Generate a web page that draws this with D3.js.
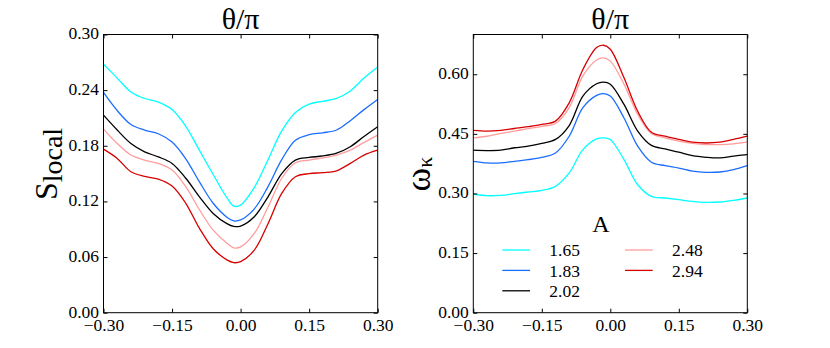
<!DOCTYPE html>
<html>
<head>
<meta charset="utf-8">
<script src="https://cdn.jsdelivr.net/npm/d3@7"></script>
</head>
<body style="margin:0; background:#fff">
<div id="chart"></div>
<script>
// theta/pi sample positions (shared by both panels)
const thetaPi = [-0.30, -0.27, -0.24, -0.21, -0.18, -0.15, -0.12, -0.09, -0.06, -0.03, -0.015,
                 0.0, 0.03, 0.06, 0.09, 0.12, 0.15, 0.18, 0.21, 0.24, 0.27, 0.30];

const amplitudes = ['1.65', '1.83', '2.02', '2.48', '2.94'];
const colors = ['#00ffff', '#1a6dff', '#000000', '#ff9c9c', '#d60000'];

// left panel: S_local
const sLocal165 = [0.268, 0.253, 0.238, 0.231, 0.227, 0.219, 0.201, 0.175, 0.149, 0.124, 0.115,
                   0.116, 0.135, 0.165, 0.196, 0.216, 0.225, 0.228, 0.231, 0.239, 0.253, 0.265];
const sLocal183 = [0.2375, 0.218, 0.203, 0.197, 0.193, 0.184, 0.166, 0.141, 0.118, 0.103, 0.099,
                   0.100, 0.112, 0.136, 0.165, 0.186, 0.192, 0.194, 0.197, 0.207, 0.219, 0.230];
const sLocal202 = [0.213, 0.197, 0.1825, 0.1735, 0.168, 0.161, 0.145, 0.125, 0.107, 0.096, 0.093,
                   0.0934, 0.1035, 0.125, 0.150, 0.1646, 0.1674, 0.169, 0.172, 0.179, 0.190, 0.2005];
const sLocal248 = [0.198, 0.1825, 0.170, 0.1646, 0.161, 0.154, 0.136, 0.111, 0.089, 0.075, 0.070,
                   0.071, 0.0855, 0.114, 0.145, 0.1617, 0.1646, 0.167, 0.170, 0.1753, 0.1836, 0.1915];
const sLocal294 = [0.1764, 0.1664, 0.152, 0.147, 0.144, 0.1365, 0.118, 0.091, 0.069, 0.057, 0.054,
                   0.055, 0.0675, 0.096, 0.1286, 0.1466, 0.150, 0.151, 0.153, 0.161, 0.170, 0.1753];

// right panel: omega_kappa
const omegaK165 = [0.2987, 0.2944, 0.2953, 0.2995, 0.3037, 0.308, 0.318, 0.3516, 0.4105, 0.4375, 0.440,
                   0.4358, 0.385, 0.322, 0.2928, 0.2886, 0.2843, 0.280, 0.2776, 0.2785, 0.2827, 0.2886];
const omegaK183 = [0.381, 0.377, 0.377, 0.381, 0.385, 0.391, 0.402, 0.444, 0.516, 0.547, 0.551,
                   0.545, 0.490, 0.419, 0.3786, 0.370, 0.364, 0.356, 0.353, 0.354, 0.360, 0.370];
const omegaK202 = [0.409, 0.408, 0.409, 0.415, 0.419, 0.426, 0.436, 0.471, 0.545, 0.576, 0.580,
                   0.575, 0.524, 0.457, 0.421, 0.412, 0.404, 0.395, 0.391, 0.3895, 0.394, 0.398];
const omegaK248 = [0.440, 0.444, 0.451, 0.457, 0.463, 0.469, 0.476, 0.516, 0.596, 0.636, 0.641,
                   0.633, 0.575, 0.499, 0.451, 0.440, 0.4316, 0.426, 0.423, 0.423, 0.425, 0.429];
const omegaK294 = [0.459, 0.457, 0.459, 0.4635, 0.468, 0.4736, 0.482, 0.528, 0.612, 0.667, 0.673,
                   0.663, 0.591, 0.507, 0.454, 0.444, 0.436, 0.429, 0.427, 0.429, 0.436, 0.444];

const xTicks = [-0.30, -0.15, 0.00, 0.15, 0.30];
const sTicks = [0.00, 0.06, 0.12, 0.18, 0.24, 0.30];
const omegaTicks = [0.00, 0.15, 0.30, 0.45, 0.60];

const serif = 'Liberation Serif';
const width = 830, height = 348;
const svg = d3.select('#chart').append('svg')
    .attr('width', width)
    .attr('height', height);

svg.append('rect').attr('width', width).attr('height', height).attr('fill', '#fff');

const fmt = d3.format('.2f');

function drawPanel(left, right, yDomain, yTicks, seriesList) {
    const top = 34.5, bottom = 312.7;
    const x = d3.scaleLinear().domain([-0.30, 0.30]).range([left, right]);
    const y = d3.scaleLinear().domain(yDomain).range([bottom, top]);
    const g = svg.append('g');

    const line = d3.line()
        .x((d, i) => x(thetaPi[i]))
        .y(d => y(d))
        .curve(d3.curveCatmullRom.alpha(0.5));

    seriesList.forEach((s, i) => {
        g.append('path')
            .datum(s)
            .attr('fill', 'none')
            .attr('stroke', colors[i])
            .attr('stroke-width', 1.3)
            .attr('d', line);
    });

    const styleAxis = sel => {
        sel.attr('font-family', null).attr('font-size', null);
        sel.select('.domain').remove();
        sel.selectAll('line').attr('stroke', '#000');
        sel.selectAll('text')
            .attr('fill', '#000')
            .attr('font-family', serif)
            .attr('font-size', 17.5);
    };

    g.append('g')
        .attr('transform', `translate(0,${bottom})`)
        .call(d3.axisBottom(x).tickValues(xTicks).tickFormat(fmt).tickSizeInner(-4).tickSizeOuter(0).tickPadding(6))
        .call(styleAxis);
    g.append('g')
        .attr('transform', `translate(0,${top})`)
        .call(d3.axisTop(x).tickValues(xTicks).tickFormat('').tickSizeInner(-4).tickSizeOuter(0))
        .call(styleAxis);
    g.append('g')
        .attr('transform', `translate(${left},0)`)
        .call(d3.axisLeft(y).tickValues(yTicks).tickFormat(fmt).tickSizeInner(-4).tickSizeOuter(0).tickPadding(4.5))
        .call(styleAxis)
        .call(a => a.selectAll('text').attr('dy', '0.25em'));
    g.append('g')
        .attr('transform', `translate(${right},0)`)
        .call(d3.axisRight(y).tickValues(yTicks).tickFormat('').tickSizeInner(-4).tickSizeOuter(0))
        .call(styleAxis);

    g.append('rect')
        .attr('x', left).attr('y', top)
        .attr('width', right - left).attr('height', bottom - top)
        .attr('fill', 'none')
        .attr('stroke', '#000')
        .attr('stroke-width', 1);

    // x label is placed above the panel
    g.append('text')
        .attr('x', (left + right) / 2)
        .attr('y', 29)
        .attr('text-anchor', 'middle')
        .attr('font-family', serif)
        .attr('font-size', 30)
        .text('θ/π');

    return { x, y, g };
}

drawPanel(103.5, 377.7, [0, 0.30], sTicks,
    [sLocal165, sLocal183, sLocal202, sLocal248, sLocal294]);
drawPanel(473.3, 747.3, [0, 0.70], omegaTicks,
    [omegaK165, omegaK183, omegaK202, omegaK248, omegaK294]);

// y labels
const sLabel = svg.append('text')
    .attr('transform', 'translate(57,164) rotate(-90)')
    .attr('text-anchor', 'middle')
    .attr('font-family', serif)
    .attr('font-size', 32);
sLabel.append('tspan').text('S');
sLabel.append('tspan').attr('font-size', 28).attr('dy', 5).text('local');

const wLabel = svg.append('text')
    .attr('transform', 'translate(430,174) rotate(-90)')
    .attr('text-anchor', 'middle')
    .attr('font-family', serif)
    .attr('font-size', 36);
wLabel.append('tspan').text('ω');
wLabel.append('tspan').attr('font-size', 22).attr('dy', 2).text('κ');

// legend
const legend = svg.append('g');
legend.append('text')
    .attr('x', 601).attr('y', 232)
    .attr('text-anchor', 'middle')
    .attr('font-family', serif)
    .attr('font-size', 24)
    .text('A');

amplitudes.forEach((a, i) => {
    const col = i < 3 ? 0 : 1;
    const row = i < 3 ? i : i - 3;
    const lx = col === 0 ? 502.3 : 625;
    const ly = 250 + row * 20.4;
    legend.append('line')
        .attr('x1', lx).attr('x2', lx + 27.7)
        .attr('y1', ly).attr('y2', ly)
        .attr('stroke', colors[i])
        .attr('stroke-width', 1.3);
    legend.append('text')
        .attr('x', lx + 47)
        .attr('y', ly)
        .attr('dy', '0.35em')
        .attr('font-family', serif)
        .attr('font-size', 17.5)
        .text(a);
});
</script>
</body>
</html>
